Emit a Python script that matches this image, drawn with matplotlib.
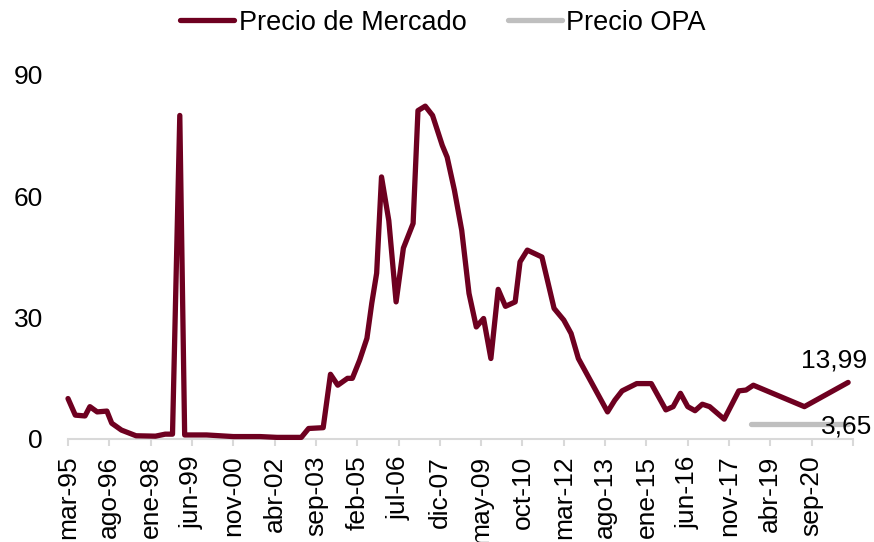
import numpy as np
import pandas as pd
import matplotlib
matplotlib.use('Agg')
import matplotlib.pyplot as plt

plt.rcParams['font.family'] = ['Liberation Sans', 'DejaVu Sans']

# precio de mercado (fecha, valor)
fechas = ['1995-03', '1995-06', '1995-10', '1995-12', '1996-03', '1996-07', '1996-09',
          '1997-01', '1997-07', '1998-03', '1998-07', '1998-10', '1999-01', '1999-03',
          '1999-12', '2000-11', '2001-10', '2002-05', '2003-03', '2003-06', '2003-12',
          '2004-03', '2004-06', '2004-10', '2004-12', '2005-03', '2005-06', '2005-08',
          '2005-10', '2005-12', '2006-03', '2006-06', '2006-09', '2007-01', '2007-03',
          '2007-06', '2007-09', '2008-01', '2008-03', '2008-06', '2008-09', '2008-12',
          '2009-03', '2009-06', '2009-09', '2009-12', '2010-03', '2010-07', '2010-09',
          '2010-12', '2011-06', '2011-11', '2012-03', '2012-06', '2012-09', '2012-12',
          '2013-09', '2013-12', '2014-03', '2014-09', '2015-03', '2015-09', '2015-12',
          '2016-03', '2016-06', '2016-09', '2016-12', '2017-03', '2017-09', '2018-03',
          '2018-06', '2018-09', '2020-06', '2021-12']
precio = [10.0, 5.9, 5.7, 8.0, 6.7, 6.9, 3.9,
          2.2, 0.8, 0.7, 1.2, 1.2, 80.0, 1.0,
          1.0, 0.6, 0.6, 0.4, 0.4, 2.6, 2.8,
          16.0, 13.3, 15.0, 15.0, 19.5, 24.9, 33.6,
          41.0, 64.8, 54.0, 33.9, 47.2, 53.3, 81.2,
          82.3, 80.0, 72.6, 69.7, 61.5, 51.6, 36.0,
          27.7, 29.8, 19.9, 37.0, 32.8, 33.9, 43.8,
          46.7, 45.0, 32.3, 29.4, 26.1, 19.9, 16.6,
          6.7, 9.6, 11.9, 13.7, 13.7, 7.2, 8.0,
          11.3, 8.0, 7.0, 8.6, 8.0, 4.9, 11.9,
          12.1, 13.3, 8.0, 13.99]

opa_fechas = ['2018-08', '2021-12']
opa_precio = [3.65, 3.65]

etiquetas = ['mar-95', 'ago-96', 'ene-98', 'jun-99', 'nov-00', 'abr-02', 'sep-03',
             'feb-05', 'jul-06', 'dic-07', 'may-09', 'oct-10', 'mar-12', 'ago-13',
             'ene-15', 'jun-16', 'nov-17', 'abr-19', 'sep-20', '']


def to_month(s):
    d = pd.to_datetime(pd.Series(s), format='%Y-%m')
    return ((d.dt.year - 1995) * 12 + d.dt.month - 3).values


x = to_month(fechas)
x_opa = to_month(opa_fechas)

fig = plt.figure(figsize=(8.74, 5.42), dpi=100)
ax = fig.add_axes([68 / 874, 1 - 439 / 542, (853 - 68) / 874, (439 - 75) / 542])

l1, = ax.plot(x, precio, color='#6E0020', lw=3.8, solid_joinstyle='round',
              solid_capstyle='round', label='Precio de Mercado', zorder=3, clip_on=False)
l2, = ax.plot(x_opa, opa_precio, color='#BFBFBF', lw=3.8, solid_capstyle='round',
              label='Precio OPA', zorder=2)

ax.set_xlim(0, 323)
ax.set_ylim(0, 90)
ax.set_yticks([0, 30, 60, 90])
ax.set_xticks(np.arange(0, 324, 17))
ax.set_xticklabels(etiquetas, rotation=90)

for s in ['top', 'right', 'left']:
    ax.spines[s].set_visible(False)
ax.spines['bottom'].set_color('#D9D9D9')
ax.spines['bottom'].set_linewidth(1.5)
ax.tick_params(axis='x', length=5, width=1.5, color='#D9D9D9', pad=7, labelsize=19)
ax.tick_params(axis='y', length=0, pad=18, labelsize=19)

ax.text(329, 17.8, '13,99', ha='right', va='baseline', fontsize=19)
ax.text(331, 1.4, '3,65', ha='right', va='baseline', fontsize=19)

fig.legend(handles=[l1, l2], loc='center', bbox_to_anchor=(0.507, 0.958), ncol=2,
           frameon=False, fontsize=19.5, handlelength=2.0, handletextpad=0.15,
           columnspacing=1.55)

fig.savefig('out.png', dpi=100)
